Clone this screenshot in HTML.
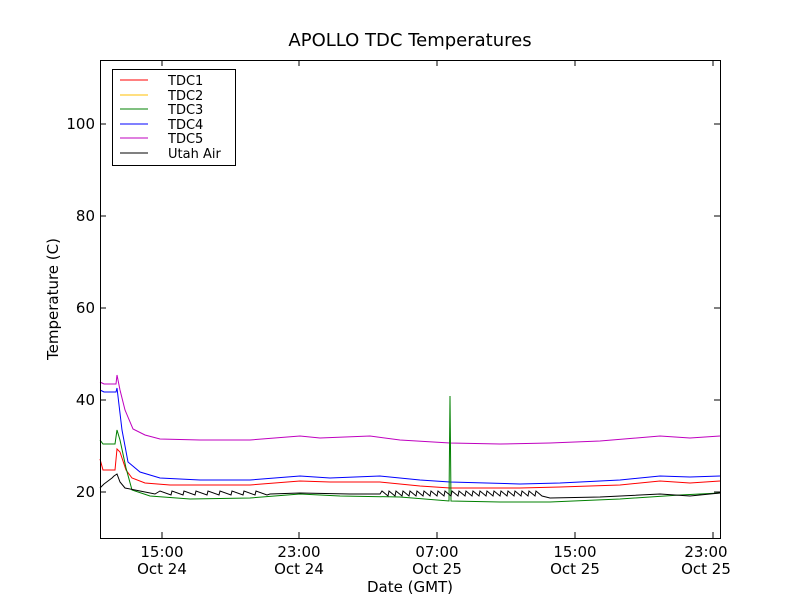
<!DOCTYPE html><html><head><style>body{margin:0;background:#fff}svg text{font-family:"DejaVu Sans","Liberation Sans",sans-serif}</style></head><body>
<svg id="s" width="800" height="600" xmlns="http://www.w3.org/2000/svg">
<rect width="800" height="600" fill="#fff"/>
<text x="410" y="46" font-size="18" text-anchor="middle">APOLLO TDC Temperatures</text>
<g id="lines" fill="none" stroke-width="1"></g>
<rect x="100.5" y="60.5" width="620" height="478" fill="none" stroke="#000"/>
<g id="ticks" stroke="#000"></g>
<g font-size="15" text-anchor="end" id="yl"></g>
<g font-size="15" text-anchor="middle">
<text x="162" y="557">15:00</text><text x="162" y="574">Oct 24</text>
<text x="299" y="557">23:00</text><text x="299" y="574">Oct 24</text>
<text x="437" y="557">07:00</text><text x="437" y="574">Oct 25</text>
<text x="575" y="557">15:00</text><text x="575" y="574">Oct 25</text>
<text x="706" y="557">23:00</text><text x="706" y="574">Oct 25</text>
</g>
<text x="410" y="592" font-size="15" text-anchor="middle">Date (GMT)</text>
<text transform="translate(58,299) rotate(-90)" font-size="15" text-anchor="middle">Temperature (C)</text>
<rect x="112.5" y="69.5" width="123" height="96" fill="#fff" stroke="#000"/>
<g font-size="13">
<line x1="120" x2="148" y1="80" y2="80" stroke="red"/><text x="168" y="85">TDC1</text>
<line x1="120" x2="148" y1="95" y2="95" stroke="#ffbf00"/><text x="168" y="100">TDC2</text>
<line x1="120" x2="148" y1="109" y2="109" stroke="green"/><text x="168" y="114">TDC3</text>
<line x1="120" x2="148" y1="124" y2="124" stroke="blue"/><text x="168" y="129">TDC4</text>
<line x1="120" x2="148" y1="138" y2="138" stroke="#bf00bf"/><text x="168" y="143">TDC5</text>
<line x1="120" x2="148" y1="153" y2="153" stroke="#000"/><text x="168" y="158">Utah Air</text>
</g>
</svg>
<script>
var L=document.getElementById('lines'),T=document.getElementById('ticks'),Y=document.getElementById('yl');
function pl(p,c){var e=document.createElementNS('http://www.w3.org/2000/svg','polyline');e.setAttribute('points',p.map(function(q){return q.join(',')}).join(' '));e.setAttribute('stroke',c);L.appendChild(e);}
pl([[100,382],[104,384],[116,384],[117,375],[120,390],[125,410],[133,429],[145,435],[160,439],[200,440],[250,440],[300,436],[320,438],[370,436],[400,440],[450,443],[500,444],[550,443],[600,441],[660,436],[690,438],[720,436]],'#bf00bf');
pl([[100,390],[104,392],[116,392],[117,388],[122,430],[128,462],[140,472],[160,478],[200,480],[250,480],[300,476],[330,478],[380,476],[420,480],[450,482],[520,484],[560,483],[620,480],[660,476],[690,477],[720,476]],'blue');
pl([[100,459],[103,470],[115,470],[117,449],[120,452],[126,470],[132,478],[145,483],[170,485],[250,485],[300,481],[330,482],[380,482],[420,486],[450,488],[520,488],[560,487],[620,485],[660,481],[690,483],[720,481]],'red');
pl([[100,440],[103,444],[115,444],[117,430],[120,440],[126,468],[132,490],[150,496],[190,499],[250,498],[300,494],[340,496],[400,497],[449,501],[450,396],[451,501],[500,502],[550,502],[620,499],[680,495],[720,493]],'green');
var b=[[100,488],[104,484],[108,481],[112,478],[114,476],[117,474],[120,482],[125,488],[140,491],[155,494]];
for(var x=160;x<260;x+=12){b.push([x,491]);b.push([x+11,495]);}
b.push([270,494],[300,493],[350,494],[380,494]);
for(x=382;x<540;x+=7){b.push([x,491]);b.push([x+6,496]);}
b.push([550,498],[600,497],[660,494],[690,496],[720,493]);
pl(b,'#000');
for(var v=20;v<=100;v+=20){var y=492-(v-20)*4.6;T.innerHTML+='<line x1="100" x2="106" y1="'+y+'" y2="'+y+'"/><line x1="714" x2="720" y1="'+y+'" y2="'+y+'"/>';Y.innerHTML+='<text x="95" y="'+(y+5)+'">'+v+'</text>';}
[162,299,437,575,713].forEach(function(x){T.innerHTML+='<line x1="'+x+'" x2="'+x+'" y1="538" y2="532"/><line x1="'+x+'" x2="'+x+'" y1="60" y2="66"/>';});
</script>
</body></html>
